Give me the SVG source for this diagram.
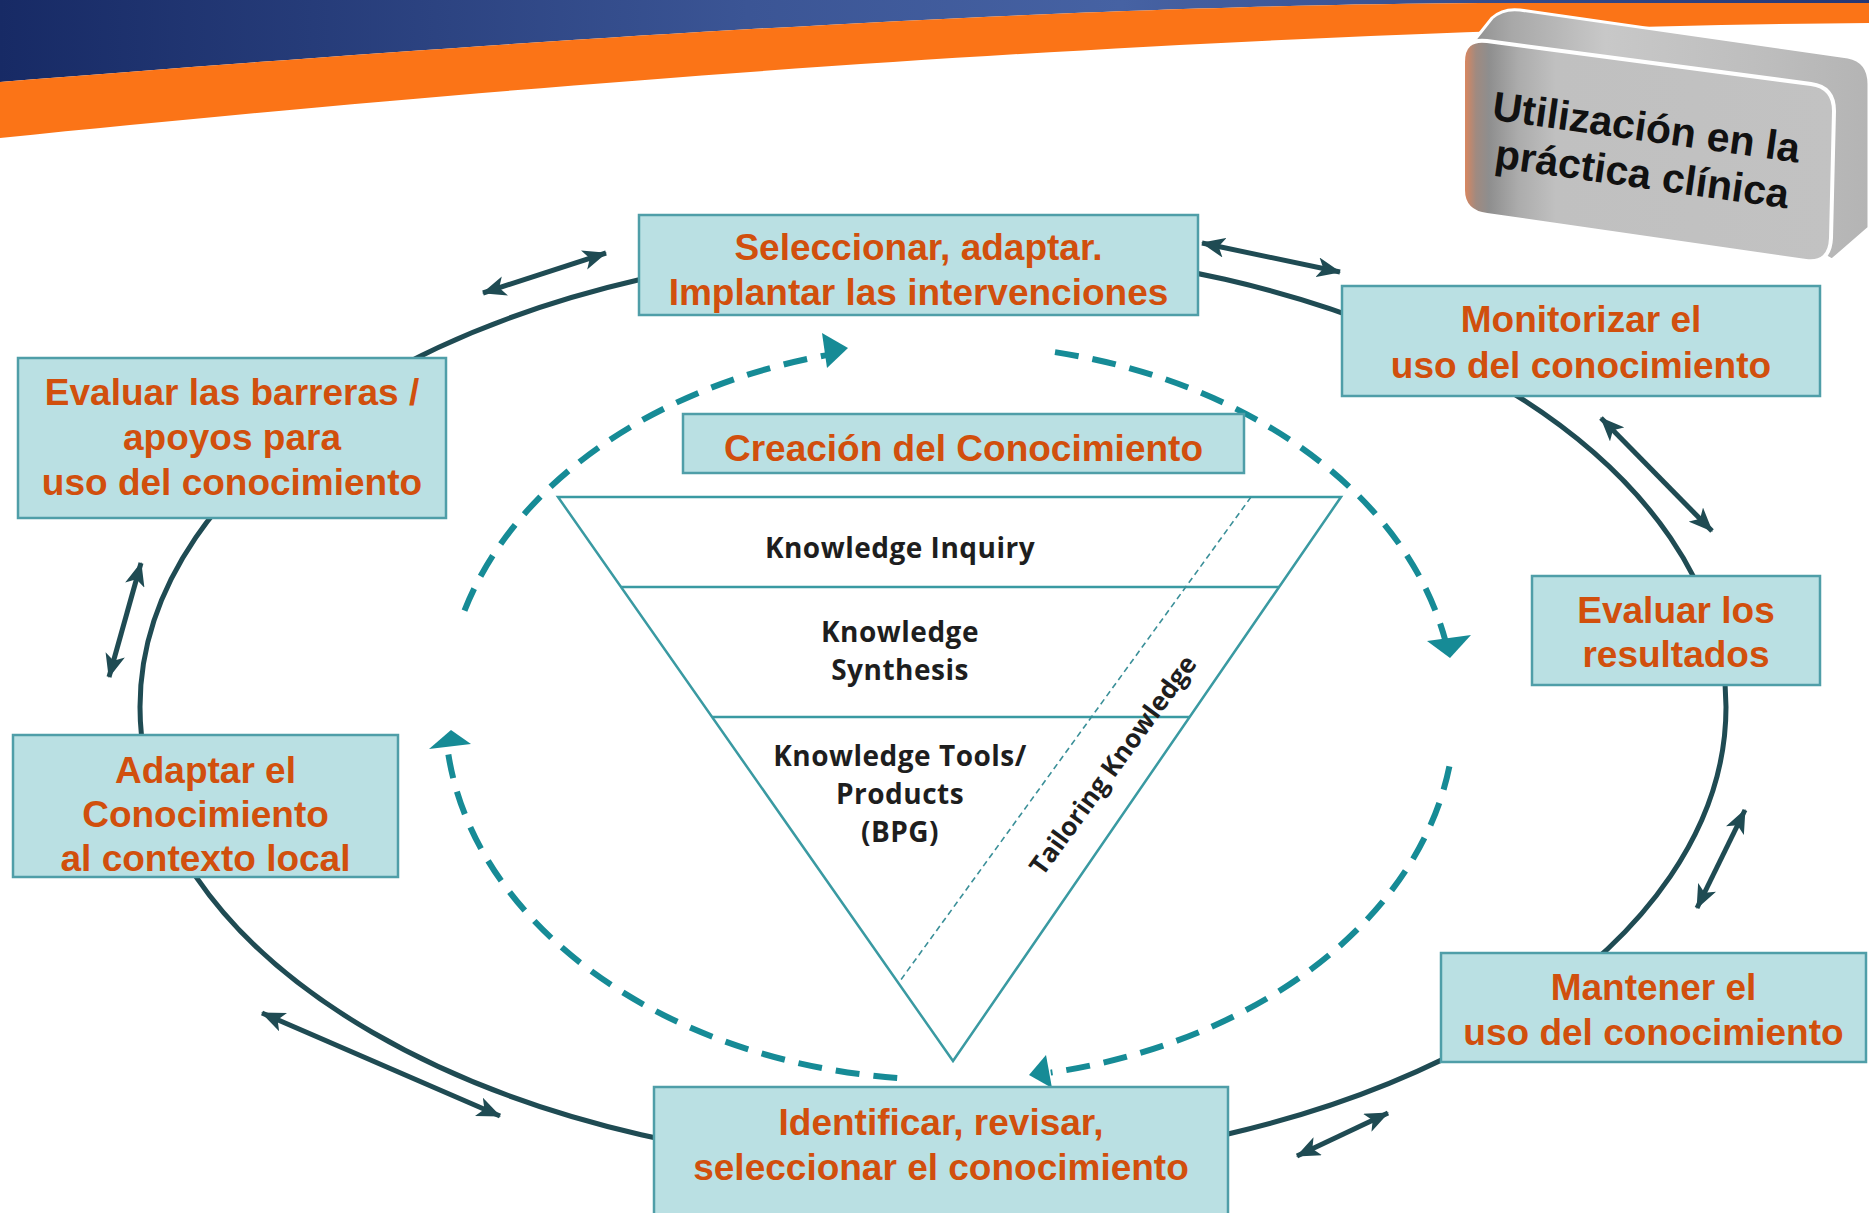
<svg xmlns="http://www.w3.org/2000/svg" width="1869" height="1213" viewBox="0 0 1869 1213">
<defs>
<linearGradient id="navy" gradientUnits="userSpaceOnUse" x1="0" y1="0" x2="1869" y2="0">
<stop offset="0" stop-color="#172a65"/><stop offset="0.4" stop-color="#3b5595"/><stop offset="0.6" stop-color="#4662a3"/><stop offset="1" stop-color="#253775"/>
</linearGradient>
<linearGradient id="front" gradientUnits="userSpaceOnUse" x1="1463" y1="0" x2="1834" y2="0">
<stop offset="0" stop-color="#e3865a"/><stop offset="0.035" stop-color="#a08a80"/><stop offset="0.07" stop-color="#8e8e8e"/><stop offset="0.15" stop-color="#acacac"/><stop offset="0.25" stop-color="#c0c0c0"/><stop offset="1" stop-color="#c2c2c2"/>
</linearGradient>
<linearGradient id="back" gradientUnits="userSpaceOnUse" x1="1463" y1="0" x2="1869" y2="0">
<stop offset="0" stop-color="#8a8a8a"/><stop offset="0.12" stop-color="#a8a8a8"/><stop offset="0.35" stop-color="#c8c8c8"/><stop offset="0.75" stop-color="#bdbdbd"/><stop offset="1" stop-color="#b4b4b4"/>
</linearGradient>
<marker id="ah" markerUnits="userSpaceOnUse" markerWidth="24" markerHeight="20" viewBox="0 0 24 20" refX="23" refY="10" orient="auto-start-reverse">
<path d="M0,0 L24,10 L0,20 L6,10 Z" fill="#1f4b53"/>
</marker>
<style>
.box{fill:#bae0e3;stroke:#4f9ea8;stroke-width:2.5}
.lbl{font-family:"Liberation Sans",Arial,sans-serif;font-weight:700;font-size:37px;fill:#d14f0d;text-anchor:middle}
.tri{font-family:"Open Sans","Liberation Sans",sans-serif;font-weight:700;font-size:28px;letter-spacing:0.5px;fill:#1e1e1e;text-anchor:middle}
.ring{fill:none;stroke:#1f4b53;stroke-width:5}
.dbl{fill:none;stroke:#1f4b53;stroke-width:5;marker-start:url(#ah);marker-end:url(#ah)}
.dash{fill:none;stroke:#168b96;stroke-width:6;stroke-dasharray:24 14}
.head{fill:#168b96}
.triline{fill:none;stroke:#3a9aa2;stroke-width:2.5}
</style>
</defs>
<rect width="1869" height="1213" fill="#ffffff"/>
<g id="header">
<path d="M0,0 H1869 V3 L1480,3 C1200,5 800,18 0,82 Z" fill="url(#navy)"/>
<path d="M0,82 C800,18 1200,5 1480,3 L1869,3 V23 C1500,26 880,48 0,138 Z" fill="#fb7417"/>
</g>
<g id="practica">
<path d="M1465,52 L1492,18 Q1503,8 1520,10 L1848,57 Q1869,61 1869,84 L1869,228 L1832,260 Z" fill="url(#back)" stroke="#ffffff" stroke-width="3"/>
<path d="M1463,62 Q1463,38 1487,41 L1811,84 Q1834,87 1834,111 L1831,238 Q1830,264 1806,261 L1487,215 Q1463,212 1463,190 Z" fill="url(#front)" stroke="#ffffff" stroke-width="4"/>
<g transform="rotate(8 1495 120)" font-family="Liberation Sans, Arial, sans-serif" font-weight="700" font-size="41" fill="#111111">
<text x="1491" y="120">Utilización en la</text>
<text x="1500" y="167">práctica clínica</text>
</g>
</g>
<g id="connectors">
<ellipse class="ring" cx="933" cy="707" rx="793" ry="460"/>
<path class="dbl" d="M483,293 L606,253"/>
<path class="dbl" d="M1202,243 L1340,272"/>
<path class="dbl" d="M1601,418 L1712,531"/>
<path class="dbl" d="M1745,810 L1697,908"/>
<path class="dbl" d="M1388,1113 L1297,1156"/>
<path class="dbl" d="M262,1013 L500,1116"/>
<path class="dbl" d="M141,563 L109,677"/>
<path class="dash" d="M464.5,610.6 A505,368 0 0 1 827.8,354.9"/>
<polygon class="head" points="848,348 822,333 827,368"/>
<path class="dash" d="M1055,352.1 A505,368 0 0 1 1445.7,641.8"/>
<polygon class="head" points="1450,658 1427,641 1471,635"/>
<path class="dash" d="M1449.4,766.4 A505,368 0 0 1 1050.7,1072.6"/>
<polygon class="head" points="1029,1075 1046,1055 1052,1088"/>
<path class="dash" d="M897.2,1078 A505,368 0 0 1 446.9,744.1"/>
<polygon class="head" points="451,730 429,749 471,744"/>
</g>
<g id="triangle">
<polygon class="triline" points="558,497 1341,497 953,1061"/>
<line class="triline" x1="621" y1="587" x2="1279" y2="587"/>
<line class="triline" x1="712" y1="717" x2="1190" y2="717"/>
<line x1="1251" y1="497" x2="900" y2="981" stroke="#3a8f98" stroke-width="1.6" stroke-dasharray="6 4"/>
<text class="tri" x="900" y="558">Knowledge Inquiry</text>
<text class="tri" x="900" y="642">Knowledge</text>
<text class="tri" x="900" y="680">Synthesis</text>
<text class="tri" x="900" y="766">Knowledge Tools/</text>
<text class="tri" x="900" y="804">Products</text>
<text class="tri" x="900" y="842">(BPG)</text>
<text class="tri" transform="translate(1113,765) rotate(-54)" x="0" y="9" style="font-size:26px;letter-spacing:0">Tailoring Knowledge</text>
</g>
<g id="creacion">
<rect class="box" x="683" y="414" width="561" height="59"/>
<text class="lbl" x="963.5" y="461">Creación del Conocimiento</text>
</g>
<g id="seleccionar">
<rect class="box" x="639" y="215" width="559" height="100"/>
<text class="lbl" x="918.5" y="260">Seleccionar, adaptar.</text>
<text class="lbl" x="918.5" y="305">Implantar las intervenciones</text>
</g>
<g id="monitorizar">
<rect class="box" x="1342" y="286" width="478" height="110"/>
<text class="lbl" x="1581" y="332">Monitorizar el</text>
<text class="lbl" x="1581" y="378">uso del conocimiento</text>
</g>
<g id="evaluar-resultados">
<rect class="box" x="1532" y="576" width="288" height="109"/>
<text class="lbl" x="1676" y="623">Evaluar los</text>
<text class="lbl" x="1676" y="667">resultados</text>
</g>
<g id="mantener">
<rect class="box" x="1441" y="953" width="425" height="109"/>
<text class="lbl" x="1653.5" y="1000">Mantener el</text>
<text class="lbl" x="1653.5" y="1045">uso del conocimiento</text>
</g>
<g id="identificar">
<rect class="box" x="654" y="1087" width="574" height="140"/>
<text class="lbl" x="941" y="1135">Identificar, revisar,</text>
<text class="lbl" x="941" y="1180">seleccionar el conocimiento</text>
</g>
<g id="adaptar">
<rect class="box" x="13" y="735" width="385" height="142"/>
<text class="lbl" x="205.5" y="783">Adaptar el</text>
<text class="lbl" x="205.5" y="827">Conocimiento</text>
<text class="lbl" x="205.5" y="871">al contexto local</text>
</g>
<g id="evaluar-barreras">
<rect class="box" x="18" y="358" width="428" height="160"/>
<text class="lbl" x="232" y="405">Evaluar las barreras /</text>
<text class="lbl" x="232" y="450">apoyos para</text>
<text class="lbl" x="232" y="495">uso del conocimiento</text>
</g>
</svg>
